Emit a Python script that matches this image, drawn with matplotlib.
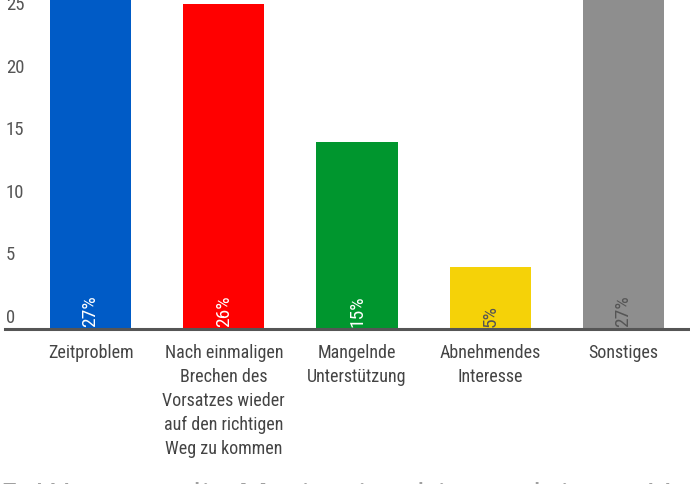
import matplotlib
matplotlib.use("Agg")
import matplotlib.pyplot as plt
import matplotlib.transforms as mtransforms

categories = ["Zeitproblem",
              "Nach einmaligen\nBrechen des\nVorsatzes wieder\nauf den richtigen\nWeg zu kommen",
              "Mangelnde\nUnterstützung",
              "Abnehmendes\nInteresse",
              "Sonstiges"]
values = [27, 26, 15, 5, 27]
pct_labels = ["27%", "26%", "15%", "5%", "27%"]
colors = ["#005BC6", "#FF0000", "#00962E", "#F5D208", "#8E8E8E"]
pct_colors = ["white", "white", "white", "#555555", "#555555"]
yticks = [0, 5, 10, 15, 20, 25]
title = "5. Was war die Motivation hinter deinem Vorsatz?"

FAM = ["Roboto Condensed", "Liberation Sans Narrow", "Roboto", "DejaVu Sans"]

W, H = 690, 485
fig = plt.figure(figsize=(W / 100, H / 100), dpi=100)
ax = fig.add_axes([24 / W, 155 / H, 666 / W, 1 - 155 / H])

x = list(range(len(categories)))
ax.bar(x, values, width=0.61, color=colors, zorder=2)
ax.set_xlim(-0.5, 4.5)
ax.set_ylim(0, 26.4)
for s in ax.spines.values():
    s.set_visible(False)
ax.set_xticks([])
ax.set_yticks([])

# baseline
ax.plot([-19 / 666, 1], [0, 0], transform=ax.get_yaxis_transform(),
        color="#555555", lw=2.2, clip_on=False, zorder=3)

# y tick labels (left aligned, drawn above the value)
up = mtransforms.ScaledTranslation(0, 12 / 100, fig.dpi_scale_trans)
for t in yticks:
    ax.text(-18 / 666, t, str(t), transform=ax.get_yaxis_transform() + up,
            ha="left", va="center", fontsize=13.5, color="#555555", family=FAM)

# category labels
for xi, c in zip(x, categories):
    ax.text(xi, 0, c, transform=ax.get_xaxis_transform()
            + mtransforms.ScaledTranslation(0, -14 / 100, fig.dpi_scale_trans),
            ha="center", va="top", fontsize=13, color="#444444", family=FAM,
            linespacing=1.43)

# percentage labels inside bars
for xi, p, pc in zip(x, pct_labels, pct_colors):
    ax.text(xi, 0, p, transform=ax.get_xaxis_transform()
            + mtransforms.ScaledTranslation(0, 3 / 100, fig.dpi_scale_trans),
            ha="center", va="bottom", rotation=90, fontsize=14, color=pc,
            family=FAM, zorder=4)

# big title, mostly cut off at the bottom
fig.text(0, -23 / H, title, ha="left", va="baseline", fontsize=24.5,
         color="#A0A0A0", family=["Open Sans", "DejaVu Sans"])

fig.savefig("out.png", dpi=100)
